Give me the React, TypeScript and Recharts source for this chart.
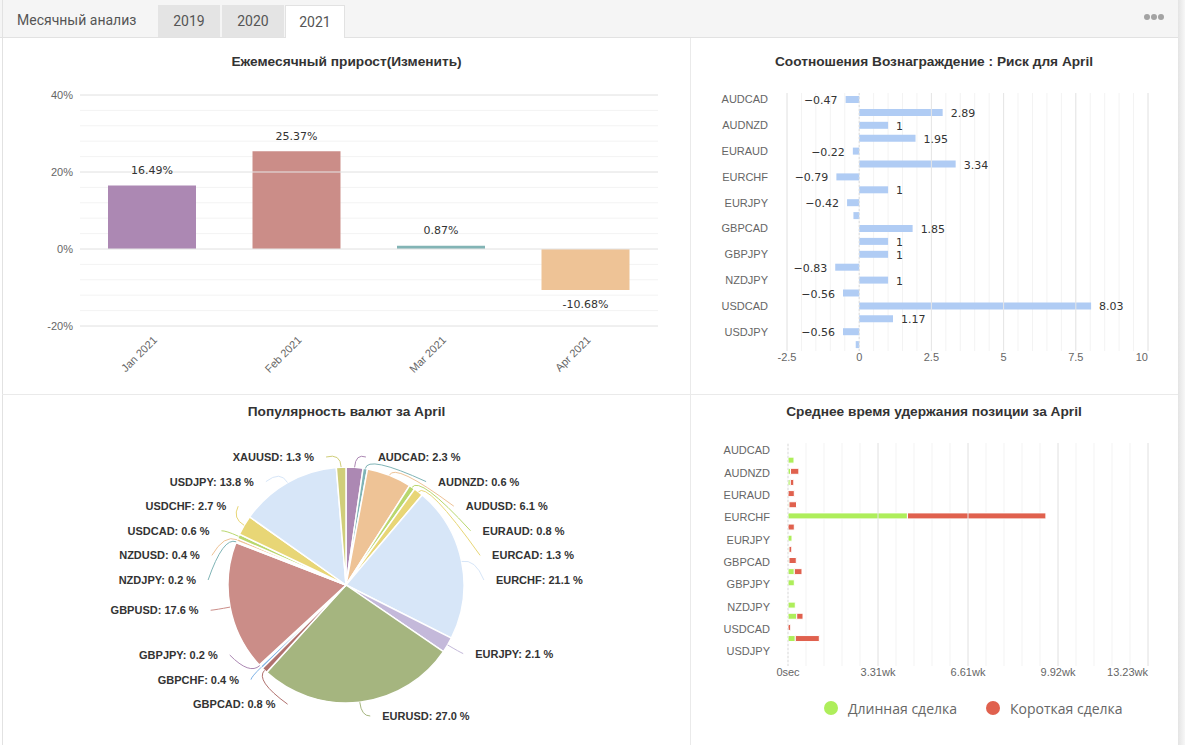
import React from 'react';
import {
  BarChart,
  Bar,
  XAxis,
  YAxis,
  CartesianGrid,
  ReferenceLine,
  LabelList,
  Cell,
  PieChart,
  Pie,
  Legend,
} from 'recharts';

// Monthly growth
const months = ['Jan 2021', 'Feb 2021', 'Mar 2021', 'Apr 2021'];
const monthlyGrowth = [16.49, 25.37, 0.87, -10.68];
const monthColors = ['#AC88B3', '#CB8D88', '#82B4B5', '#EEC396'];

// Instruments shown on the two horizontal charts
const pairs = [
  'AUDCAD', 'AUDJPY', 'AUDNZD', 'AUDUSD', 'EURAUD', 'EURCAD', 'EURCHF', 'EURGBP', 'EURJPY', 'EURUSD',
  'GBPCAD', 'GBPCHF', 'GBPJPY', 'GBPUSD', 'NZDJPY', 'NZDUSD', 'USDCAD', 'USDCHF', 'USDJPY', 'XAUUSD',
];

// Reward : risk ratio per pair
const rewardRisk = [-0.47, 2.89, 1, 1.95, -0.22, 3.34, -0.79, 1, -0.42, -0.2, 1.85, 1, 1, -0.83, 1, -0.56, 8.03, 1.17, -0.56, -0.12];
const rewardRiskNoLabel = ['EURUSD', 'XAUUSD'];

// Average holding time, seconds
const holdLong = [0, 133000, 56000, 51000, 0, 22000, 2654000, 0, 89000, 22000, 22000, 140000, 140000, 0, 162000, 194000, 0, 162000, 0, 0];
const holdShort = [0, 0, 185000, 78000, 140000, 167000, 3077000, 140000, 0, 62000, 162000, 171000, 0, 0, 0, 140000, 60000, 534000, 0, 0];
const holdSeries = ['Длинная сделка', 'Короткая сделка'];

// Currency popularity, %
const pieSymbols = [
  'AUDCAD', 'AUDNZD', 'AUDUSD', 'EURAUD', 'EURCAD', 'EURCHF', 'EURJPY', 'EURUSD', 'GBPCAD',
  'GBPCHF', 'GBPJPY', 'GBPUSD', 'NZDJPY', 'NZDUSD', 'USDCAD', 'USDCHF', 'USDJPY', 'XAUUSD',
];
const pieShares = [2.3, 0.6, 6.1, 0.8, 1.3, 21.1, 2.1, 27.0, 0.8, 0.4, 0.2, 17.6, 0.2, 0.4, 0.6, 2.7, 13.8, 1.3];
const pieColors = [
  '#AC88B3', '#7FB4B6', '#EEC396', '#B9D76E', '#E8D676', '#D7E6F8', '#C4B9DA', '#A5B57F', '#B0716E',
  '#7DB1E6', '#AC88B3', '#CB8D88', '#7FB4B6', '#EEC396', '#B9D76E', '#E8D676', '#D7E6F8', '#D0CE7A',
];

const AXIS_FONT = "'Liberation Sans', Arial, sans-serif";
const VALUE_FONT = "'DejaVu Sans', sans-serif";
const WEEK = 604800;

const steps = (from: number, to: number, step: number) => {
  const out: number[] = [];
  for (let v = from; v <= to + 1e-9; v += step) out.push(Math.round(v * 1000) / 1000);
  return out;
};
const isMultiple = (v: number, m: number) => Math.abs(v / m - Math.round(v / m)) < 1e-9;

const growthData = months.map((month, i) => ({ month, value: monthlyGrowth[i] }));
const rewardRiskData = pairs.map((pair, i) => ({
  pair,
  value: rewardRisk[i],
  label: rewardRiskNoLabel.includes(pair) ? null : rewardRisk[i],
}));
const holdData = pairs.map((pair, i) => ({ pair, long: holdLong[i], short: holdShort[i] }));
const pieData = pieSymbols.map((symbol, i) => ({ symbol, share: pieShares[i] }));

const growthTicks = steps(-20, 40, 4);
const ratioTicks = steps(-2.5, 10, 0.5);
const holdTicks = steps(0, 8000000, 400000);

const tickStyle = { fontSize: 11, fill: '#666', fontFamily: AXIS_FONT };

// bottom axis tick; the last label is right-aligned so it stays inside the plot
const bottomTick = (format: (v: number) => string, last: number) => (props: any) => {
  const { x, y, payload } = props;
  const text = format(payload.value);
  if (!text) return <g />;
  return (
    <text x={x} y={y} dy="0.71em" textAnchor={payload.value === last ? 'end' : 'middle'} {...tickStyle}>
      {text}
    </text>
  );
};

const RotatedTick = (props: any) => {
  const { x, y, payload } = props;
  return (
    <g transform={`translate(${x},${y})`}>
      <text x={2} y={2} dy="0.35em" textAnchor="end" transform="rotate(-45)" {...tickStyle}>
        {payload.value}
      </text>
    </g>
  );
};

const GrowthLabel = (props: any) => {
  const { x, y, width, height, value } = props;
  const top = Math.min(y, y + height);
  const bottom = Math.max(y, y + height);
  return (
    <text
      x={x + width / 2}
      y={value >= 0 ? top - 15 : bottom + 14}
      textAnchor="middle"
      dominantBaseline="central"
      fontSize={11}
      fill="#333"
      fontFamily={VALUE_FONT}
    >
      {`${value.toFixed(2)}%`}
    </text>
  );
};

const RatioLabel = (props: any) => {
  const { x, y, width, height, value } = props;
  if (value === null || value === undefined) return null;
  const left = Math.min(x, x + width);
  const right = Math.max(x, x + width);
  return (
    <text
      x={value >= 0 ? right + 8 : left - 8}
      y={y + height / 2 + 1}
      textAnchor={value >= 0 ? 'start' : 'end'}
      dominantBaseline="central"
      fontSize={11}
      fill="#333"
      fontFamily={VALUE_FONT}
    >
      {String(value).replace('-', '\u2212')}
    </text>
  );
};

// pie label placement: labels sit on an ellipse around the pie and are
// pushed apart vertically (per side) so they never overlap
const PIE_CX = 343;
const PIE_CY = 190;
const PIE_R = 118;
const LABEL_STEP = 24.6;

type Placed = { x: number; y: number; side: number };

function layoutPieLabels(values: number[]): Placed[] {
  const total = values.reduce((s, v) => s + v, 0);
  let acc = 0;
  const items = values.map((v, i) => {
    const mid = 90 - ((acc + v / 2) / total) * 360;
    acc += v;
    const rad = (mid * Math.PI) / 180;
    return { i, side: Math.cos(rad) >= 0 ? 1 : -1, y: PIE_CY - 135 * Math.sin(rad) };
  });
  const minTop = PIE_CY - 128;
  const maxBottom = PIE_CY + 131;
  const out: Placed[] = [];

  for (const side of [1, -1]) {
    const group = items.filter((d) => d.side === side).sort((a, b) => a.y - b.y);
    type Cluster = { items: typeof group; top: number };
    const fit = (c: Cluster) => {
      const mean = c.items.reduce((s, d) => s + d.y, 0) / c.items.length;
      let top = mean - ((c.items.length - 1) * LABEL_STEP) / 2;
      top = Math.min(top, maxBottom - (c.items.length - 1) * LABEL_STEP);
      top = Math.max(top, minTop);
      c.top = top;
      return c;
    };
    const clusters: Cluster[] = group.map((d) => fit({ items: [d], top: 0 }));
    let merged = true;
    while (merged) {
      merged = false;
      for (let k = 0; k < clusters.length - 1; k++) {
        const a = clusters[k];
        const b = clusters[k + 1];
        if (a.top + a.items.length * LABEL_STEP > b.top) {
          clusters.splice(k, 2, fit({ items: [...a.items, ...b.items], top: 0 }));
          merged = true;
          break;
        }
      }
    }
    clusters.forEach((c) =>
      c.items.forEach((d, k) => {
        const y = c.top + k * LABEL_STEP;
        const dy = y - PIE_CY;
        const b = dy < 0 ? 131 : 135;
        const dx = 150 * Math.sqrt(Math.max(0, 1 - (dy / b) ** 2));
        out[d.i] = { x: PIE_CX + side * dx, y, side };
      }),
    );
  }
  return out;
}

const pieLabelPos = layoutPieLabels(pieShares);

const renderPieLabel = (props: any) => {
  const { cx, cy, midAngle, outerRadius, index } = props;
  const pos = pieLabelPos[index];
  const d = pieData[index];
  const rad = (-midAngle * Math.PI) / 180;
  const x0 = cx + outerRadius * Math.cos(rad);
  const y0 = cy + outerRadius * Math.sin(rad);
  const x1 = cx + (outerRadius + 14) * Math.cos(rad);
  const y1 = cy + (outerRadius + 14) * Math.sin(rad);
  const x2 = pos.x - pos.side * 12;
  return (
    <g>
      <path d={`M${x0},${y0} Q${x1},${y1} ${x2},${pos.y}`} stroke={pieColors[index]} strokeWidth={1} fill="none" />
      <text
        x={pos.x}
        y={pos.y}
        textAnchor={pos.side > 0 ? 'start' : 'end'}
        dominantBaseline="central"
        fontSize={11}
        fontWeight="bold"
        fill="#333"
        fontFamily={AXIS_FONT}
      >
        {`${d.symbol}: ${d.share.toFixed(1)} %`}
      </text>
    </g>
  );
};

const HoldLegend = (props: any) => (
  <div style={{ display: 'flex', alignItems: 'center', paddingLeft: 134, height: 20 }}>
    {(props.payload ?? []).map((p: any) => (
      <div key={p.value} style={{ display: 'flex', alignItems: 'center', marginRight: 29 }}>
        <span
          style={{ display: 'inline-block', width: 14, height: 14, borderRadius: '50%', background: p.color, marginRight: 10 }}
        />
        <span style={{ fontSize: 14, color: '#666', fontFamily: "'Open Sans', sans-serif" }}>{p.value}</span>
      </div>
    ))}
  </div>
);

const Title = ({ text, left, top, width }: { text: string; left: number; top: number; width: number }) => (
  <div
    style={{
      position: 'absolute',
      left,
      top,
      width,
      textAlign: 'center',
      fontSize: 13.7,
      fontWeight: 'bold',
      color: '#333',
      fontFamily: AXIS_FONT,
      lineHeight: '16px',
    }}
  >
    {text}
  </div>
);

const tabStyle = (active: boolean): React.CSSProperties => ({
  position: 'absolute',
  top: 5,
  height: active ? 33 : 32,
  boxSizing: 'border-box',
  background: active ? '#fff' : '#E4E4E4',
  border: active ? '1px solid #E2E2E2' : 'none',
  borderBottom: 'none',
  display: 'flex',
  alignItems: 'center',
  justifyContent: 'center',
  fontSize: 14,
  color: '#555',
});

export default function App() {
  return (
    <div
      style={{
        position: 'relative',
        width: 1185,
        height: 745,
        overflow: 'hidden',
        background: '#fff',
        fontFamily: "Roboto, 'Liberation Sans', sans-serif",
      }}
    >
      <style>{'body{margin:0}'}</style>

      {/* header with tabs */}
      <div
        style={{
          position: 'absolute',
          left: 0,
          top: 0,
          width: 1178,
          height: 38,
          boxSizing: 'border-box',
          background: '#F5F5F5',
          borderBottom: '1px solid #E2E2E2',
        }}
      >
        <div style={{ position: 'absolute', left: 17, top: 12, fontSize: 14, color: '#555' }}>Месячный анализ</div>
        <div style={{ ...tabStyle(false), left: 158, width: 62 }}>2019</div>
        <div style={{ ...tabStyle(false), left: 222, width: 62 }}>2020</div>
        <div style={{ ...tabStyle(true), left: 285, width: 60 }}>2021</div>
        <div style={{ position: 'absolute', left: 1144, top: 14, display: 'flex', gap: 1 }}>
          {[0, 1, 2].map((k) => (
            <span key={k} style={{ width: 6, height: 6, borderRadius: '50%', background: '#A3A3A3' }} />
          ))}
        </div>
      </div>

      {/* frame and dividers */}
      <div style={{ position: 'absolute', left: 2, top: 0, width: 1, height: 745, background: '#E2E2E2' }} />
      <div style={{ position: 'absolute', left: 690, top: 38, width: 1, height: 707, background: '#EAEAEA' }} />
      <div style={{ position: 'absolute', left: 2, top: 394, width: 1176, height: 1, background: '#EAEAEA' }} />
      <div
        style={{
          position: 'absolute',
          left: 1178,
          top: 0,
          width: 7,
          height: 745,
          background: 'linear-gradient(to right, #E4E4E4, #F7F7F7)',
        }}
      />

      {/* monthly growth */}
      <div style={{ position: 'absolute', left: 3, top: 37 }}>
        <BarChart width={687} height={358} data={growthData} margin={{ top: 58, right: 32, bottom: 0, left: 27 }}>
          <CartesianGrid vertical={false} stroke="#F3F3F3" />
          {[-20, 0, 20, 40].map((v) => (
            <ReferenceLine key={v} y={v} stroke="#E6E6E6" />
          ))}
          <XAxis
            dataKey="month"
            axisLine={false}
            tickLine={false}
            tickSize={0}
            tickMargin={12}
            height={69}
            interval={0}
            tick={RotatedTick}
          />
          <YAxis
            domain={[-20, 40]}
            ticks={growthTicks}
            interval={0}
            width={50}
            axisLine={false}
            tickLine={false}
            tickSize={0}
            tickMargin={7}
            tick={tickStyle}
            tickFormatter={(v: number) => (isMultiple(v, 20) ? `${v}%` : '')}
          />
          <Bar dataKey="value" barSize={88} isAnimationActive={false}>
            {growthData.map((d, i) => (
              <Cell key={d.month} fill={monthColors[i]} />
            ))}
            <LabelList dataKey="value" content={GrowthLabel} />
          </Bar>
        </BarChart>
      </div>
      <Title text="Ежемесячный прирост(Изменить)" left={3} top={54} width={687} />

      {/* reward : risk */}
      <div style={{ position: 'absolute', left: 690, top: 37 }}>
        <BarChart
          layout="vertical"
          width={488}
          height={358}
          data={rewardRiskData}
          margin={{ top: 56, right: 30, bottom: 0, left: 0 }}
        >
          <CartesianGrid horizontal={false} stroke="#F3F3F3" />
          {[-2.5, 2.5, 5, 7.5, 10].map((v) => (
            <ReferenceLine key={v} x={v} stroke="#E6E6E6" />
          ))}
          <ReferenceLine x={0} stroke="#DDDDDD" strokeDasharray="2 2" />
          <XAxis
            type="number"
            domain={[-2.5, 10]}
            ticks={ratioTicks}
            interval={0}
            axisLine={false}
            tickLine={false}
            tickSize={0}
            tickMargin={2}
            height={44}
            tick={bottomTick((v) => (isMultiple(v, 2.5) ? String(v) : ''), 10)}
          />
          <YAxis
            type="category"
            dataKey="pair"
            interval={1}
            width={97}
            axisLine={false}
            tickLine={false}
            tickSize={0}
            tickMargin={19}
            tick={tickStyle}
          />
          <Bar dataKey="value" barSize={7} fill="#B0CCF4" isAnimationActive={false}>
            <LabelList dataKey="label" content={RatioLabel} />
          </Bar>
        </BarChart>
      </div>
      <Title text="Соотношения Вознаграждение : Риск для April" left={690} top={54} width={488} />

      {/* currency popularity */}
      <div style={{ position: 'absolute', left: 3, top: 395 }}>
        <PieChart width={687} height={350} margin={{ top: 0, right: 0, bottom: 0, left: 0 }}>
          <Pie
            data={pieData}
            dataKey="share"
            nameKey="symbol"
            cx={PIE_CX}
            cy={PIE_CY}
            outerRadius={PIE_R}
            startAngle={90}
            endAngle={-270}
            stroke="#fff"
            strokeWidth={1.5}
            label={renderPieLabel}
            labelLine={false}
            isAnimationActive={false}
          >
            {pieData.map((d, i) => (
              <Cell key={d.symbol} fill={pieColors[i]} />
            ))}
          </Pie>
        </PieChart>
      </div>
      <Title text="Популярность валют за April" left={3} top={404} width={687} />

      {/* average holding time */}
      <div style={{ position: 'absolute', left: 690, top: 395 }}>
        <BarChart
          layout="vertical"
          width={488}
          height={350}
          data={holdData}
          margin={{ top: 48, right: 30, bottom: 0, left: 0 }}
        >
          <CartesianGrid horizontal={false} stroke="#F3F3F3" />
          {[2000000, 4000000, 6000000, 8000000].map((v) => (
            <ReferenceLine key={v} x={v} stroke="#E6E6E6" />
          ))}
          <ReferenceLine x={0} stroke="#DDDDDD" strokeDasharray="2 2" />
          <XAxis
            type="number"
            domain={[0, 8000000]}
            ticks={holdTicks}
            interval={0}
            axisLine={false}
            tickLine={false}
            tickSize={0}
            tickMargin={2}
            height={79}
            tick={bottomTick(
              (v) => (!isMultiple(v, 2000000) ? '' : v === 0 ? '0sec' : `${(v / WEEK).toFixed(2)}wk`),
              8000000,
            )}
          />
          <YAxis
            type="category"
            dataKey="pair"
            interval={1}
            width={98}
            axisLine={false}
            tickLine={false}
            tickSize={0}
            tickMargin={18}
            tick={{ ...tickStyle, dy: 2 }}
          />
          <Legend
            layout="horizontal"
            verticalAlign="middle"
            align="center"
            wrapperStyle={{ top: 303, left: 0, width: 488 }}
            content={HoldLegend}
          />
          <Bar dataKey="long" name={holdSeries[0]} stackId="hold" barSize={6} fill="#AEEE5B" stroke="#fff" isAnimationActive={false} />
          <Bar dataKey="short" name={holdSeries[1]} stackId="hold" barSize={6} fill="#E0614E" stroke="#fff" isAnimationActive={false} />
        </BarChart>
      </div>
      <Title text="Среднее время удержания позиции за April" left={690} top={404} width={488} />
    </div>
  );
}
